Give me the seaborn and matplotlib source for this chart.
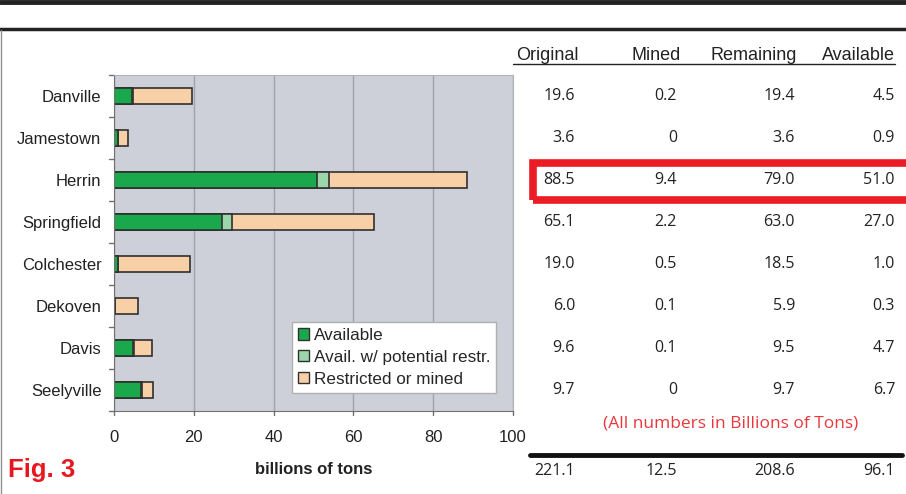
import numpy as np
import pandas as pd
import matplotlib
matplotlib.use("Agg")
import matplotlib.pyplot as plt
import matplotlib.transforms as mtransforms
from matplotlib.patches import Patch, Rectangle
from matplotlib.lines import Line2D
import seaborn as sns

# 数据
plants = ["Danville", "Jamestown", "Herrin", "Springfield",
          "Colchester", "Dekoven", "Davis", "Seelyville"]
original = [19.6, 3.6, 88.5, 65.1, 19.0, 6.0, 9.6, 9.7]
mined = [0.2, 0, 9.4, 2.2, 0.5, 0.1, 0.1, 0]
remaining = [19.4, 3.6, 79.0, 63.0, 18.5, 5.9, 9.5, 9.7]
available = [4.5, 0.9, 51.0, 27.0, 1.0, 0.3, 4.7, 6.7]
potential = [0.3, 0, 3.0, 2.5, 0, 0, 0.3, 0.3]

col_names = ["Original", "Mined", "Remaining", "Available"]
totals = ["221.1", "12.5", "208.6", "96.1"]
x_ticks = [0, 20, 40, 60, 80, 100]

c_avail = "#19a84c"
c_pot = "#9dd5aa"
c_restr = "#f8d0a8"
bg = "#cdd0d8"

df = pd.DataFrame({"plant": plants,
                   "total": original,
                   "avail_pot": np.array(available) + np.array(potential),
                   "avail": available})

sns.set_style("white")
plt.rcParams["font.family"] = ["Liberation Sans", "DejaVu Sans"]

fig = plt.figure(figsize=(9.06, 4.94), dpi=100)
ax = fig.add_axes([114 / 906, 1 - 411 / 494, 399 / 906, 336 / 494])
ax.set_facecolor(bg)

# 堆叠条形：先画总长，再叠加
for col, c in [("total", c_restr), ("avail_pot", c_pot), ("avail", c_avail)]:
    sns.barplot(data=df, y="plant", x=col, orient="h", color=c,
                width=0.4, edgecolor="#303030", linewidth=1.2, ax=ax,
                saturation=1)

ax.set_xlim(0, 100)
ax.set_ylim(len(plants) - 0.5, -0.5)
ax.set_xticks(x_ticks)
ax.set_xticklabels([str(t) for t in x_ticks], fontsize=12, color="#222222")
ax.set_yticks(range(len(plants)))
ax.set_yticklabels(plants, fontsize=12, color="#222222")
ax.tick_params(axis="y", length=0, pad=9)
ax.tick_params(axis="x", length=0, pad=14)
ax.xaxis.grid(True, color="#a0a3ab", linewidth=1)
ax.set_axisbelow(True)
ax.set_ylabel("")
ax.set_xlabel("billions of tons", fontsize=12, fontweight="bold",
              color="#222222", labelpad=12)
for s in ["top", "right"]:
    ax.spines[s].set_color("#b0b3ba")
for s in ["left", "bottom"]:
    ax.spines[s].set_color("#707070")

# 左侧小刻度（类别之间）
for y in np.arange(-0.5, len(plants) + 0.5, 1):
    ax.plot([-1.2, 0], [y, y], color="#707070", lw=1, clip_on=False)
for x in x_ticks:
    ax.plot([x, x], [len(plants) - 0.5, len(plants) - 0.5 + 0.1],
            color="#707070", lw=1, clip_on=False)

handles = [Patch(facecolor=c, edgecolor="#303030", linewidth=1)
           for c in [c_avail, c_pot, c_restr]]
leg = ax.legend(handles, ["Available", "Avail. w/ potential restr.",
                          "Restricted or mined"],
                loc="lower left", bbox_to_anchor=(0.447, 0.055),
                fontsize=12.3, frameon=True, fancybox=False, framealpha=1,
                handlelength=0.65, handleheight=0.65, handletextpad=0.25,
                labelspacing=0.4, borderpad=0.35, borderaxespad=0)
leg.get_frame().set_edgecolor("#b0b0b0")
leg.get_frame().set_linewidth(1)

# 右侧表格
trans = mtransforms.blended_transform_factory(fig.transFigure, ax.transData)
col_right = [575, 677, 795, 895]
head_right = [579, 681, 797, 895]
num_font = ["Open Sans", "DejaVu Sans"]
for i, name in enumerate(col_names):
    fig.text(head_right[i] / 906, 1 - 55 / 494, name, ha="right",
             va="center", fontsize=13, color="#222222",
             family=["Liberation Sans Narrow", "Liberation Sans"])
fig.add_artist(Line2D([513 / 906, 895 / 906], [1 - 64 / 494, 1 - 64 / 494],
                      color="#222222", lw=1))

cols = [original, mined, remaining, available]
for r in range(len(plants)):
    for c in range(4):
        v = cols[c][r]
        txt = "0" if v == 0 else f"{v:.1f}"
        fig.text(col_right[c] / 906, r, txt, transform=trans, ha="right",
                 va="center", fontsize=11.5, color="#222222", family=num_font)

# 红框 (Herrin)
fig.add_artist(Rectangle((533 / 906, 1 - 200 / 494), 380 / 906, 37 / 494,
                         transform=fig.transFigure, fill=False,
                         edgecolor="#ec1c24", linewidth=5.5))

fig.text(731 / 906, 1 - 423 / 494, "(All numbers in Billions of Tons)",
         ha="center", va="center", fontsize=12.5, color="#e8383d",
         family=num_font)
fig.add_artist(Line2D([530 / 906, 902 / 906], [1 - 455 / 494, 1 - 455 / 494],
                      color="#111111", lw=3.5))
for c in range(4):
    fig.text(col_right[c] / 906, 1 - 471 / 494, totals[c], ha="right",
             va="center", fontsize=11.5, color="#222222", family=num_font)

fig.text(8 / 906, 1 - 470 / 494, "Fig. 3", ha="left", va="center",
         fontsize=18.5, fontweight="bold", color="#e8161e")

# 顶部粗线与左边框
fig.add_artist(Line2D([0, 1], [1 - 2.5 / 494, 1 - 2.5 / 494],
                      color="#222222", lw=3.5))
fig.add_artist(Line2D([0, 1], [1 - 29 / 494, 1 - 29 / 494],
                      color="#222222", lw=2.5))
fig.add_artist(Line2D([1 / 906, 1 / 906], [0, 1 - 30 / 494],
                      color="#909090", lw=1))

fig.savefig("out.png", dpi=100)
